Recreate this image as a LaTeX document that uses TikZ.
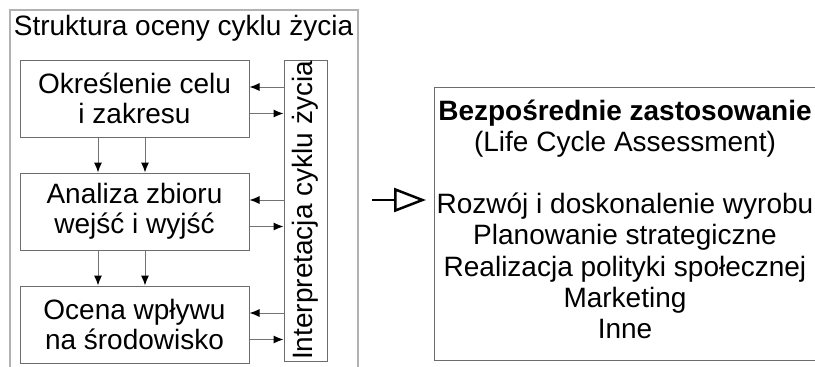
\documentclass[tikz,border=0pt]{standalone}
\usepackage{fontspec}
\setmainfont{Liberation Sans}
\usetikzlibrary{arrows.meta, positioning}

\begin{document}
\begin{tikzpicture}[x=1pt, y=-1pt,
    every node/.style={font=\fontsize{28}{30}\selectfont, inner sep=0pt},
    stage/.style={draw=gray!85!black, line width=1pt, minimum width=229pt, minimum height=77pt, align=center},
    flow/.style={draw=gray!90!black, line width=1pt, -{Latex[length=10pt,width=8pt,black]}},
    bigarrow/.style={draw=black, line width=2.5pt, -{Triangle[open,length=32pt,width=24pt,line width=2.5pt]}}]

\useasboundingbox (0,0) rectangle (815,367);

% Outer frame (runs off the bottom edge)
\draw[gray!60, line width=1.5pt] (10,367) -- (10,10) -- (358,10) -- (358,367);
\node (title) at (183.5,28) {Struktura oceny cyklu życia};

% Three stages
\node[stage] (goal) at (134.5,98.5) {Określenie celu\\i zakresu};
\node[stage, below=35pt of goal] (inventory) {Analiza zbioru\\wejść i wyjść};
\node[stage, below=35pt of inventory] (impact) {Ocena wpływu\\na środowisko};

% Interpretation column
\node[draw=gray!85!black, line width=1pt, rotate=90, minimum width=301pt, minimum height=43pt]
    (interp) at (305.5,210.5) {Interpretacja cyklu życia};

% Arrows between stages
\foreach \a/\b in {goal/inventory, inventory/impact} {
    \draw[flow] ([xshift=-36.5pt]\a.south) -- ([xshift=-36.5pt]\b.north);
    \draw[flow] ([xshift=10.5pt]\a.south) -- ([xshift=10.5pt]\b.north);
}

% Arrows to and from the interpretation
\foreach \s in {goal, inventory, impact} {
    \draw[flow] ([yshift=11.5pt]\s.east -| interp.north) -- ([yshift=11.5pt]\s.east);
    \draw[flow] ([yshift=-15pt]\s.east) -- ([yshift=-15pt]\s.east -| interp.north);
}

% Applications
\node[draw=gray!85!black, line width=1pt, minimum width=381pt, minimum height=273pt, align=center,
    font=\fontsize{28}{31.2}\selectfont, anchor=north west] (apps) at (434,87)
    {\textbf{Bezpośrednie zastosowanie}\\(Life Cycle Assessment)\\[31.2pt]
     Rozwój i doskonalenie wyrobu\\Planowanie strategiczne\\Realizacja polityki społecznej\\Marketing\\Inne\rule[-10pt]{0pt}{10pt}};

\coordinate (from) at (372,200);
\coordinate (to) at (426,200);
\draw[bigarrow] (from) -- (to);

\end{tikzpicture}
\end{document}
